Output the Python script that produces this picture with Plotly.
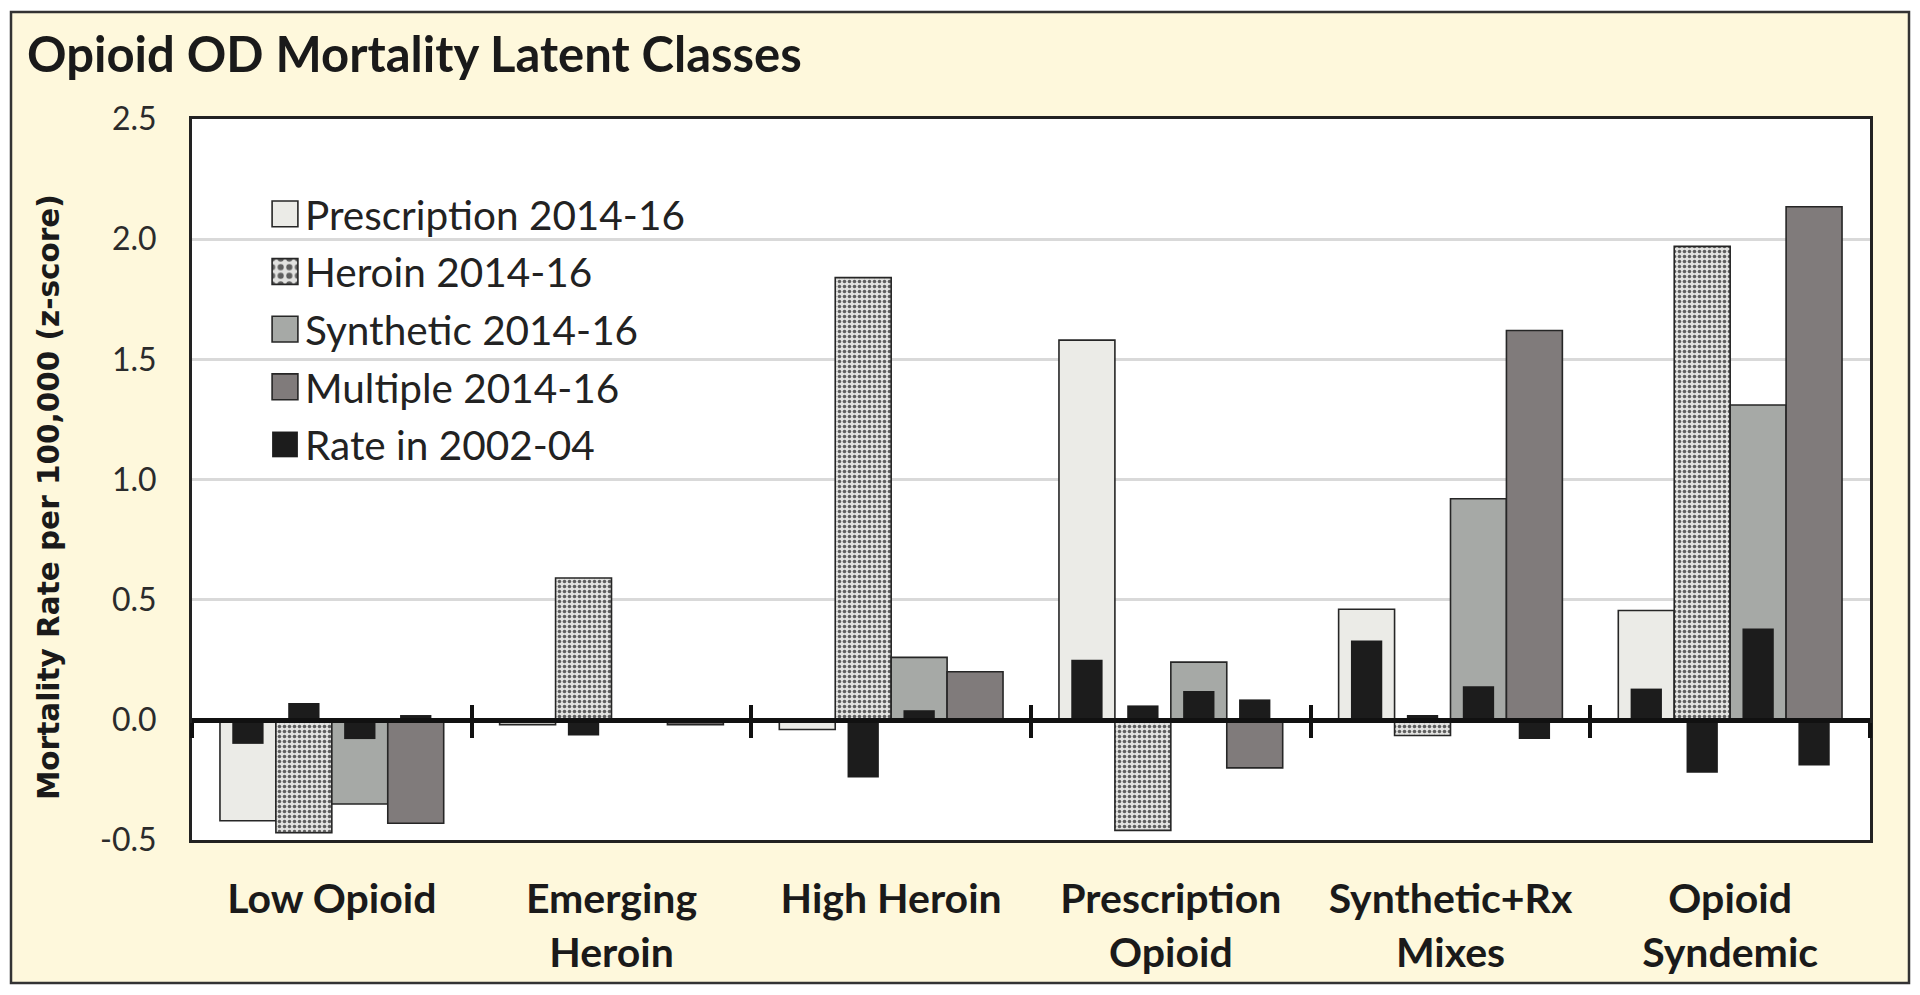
import plotly.graph_objects as go

# ---------------- data ----------------
categories = ["Low Opioid", "Emerging Heroin", "High Heroin",
              "Prescription Opioid", "Synthetic+Rx Mixes", "Opioid Syndemic"]
category_labels = ["Low Opioid", "Emerging<br>Heroin", "High Heroin",
                   "Prescription<br>Opioid", "Synthetic+Rx<br>Mixes", "Opioid<br>Syndemic"]

series_names = ["Prescription 2014-16", "Heroin 2014-16", "Synthetic 2014-16", "Multiple 2014-16"]
prescription_1416 = [-0.42, -0.02, -0.04, 1.58, 0.46, 0.455]
heroin_1416 = [-0.47, 0.59, 1.84, -0.46, -0.065, 1.97]
synthetic_1416 = [-0.35, 0.0, 0.26, 0.24, 0.92, 1.31]
multiple_1416 = [-0.43, -0.02, 0.20, -0.20, 1.62, 2.135]

rate_name = "Rate in 2002-04"
prescription_0204 = [-0.10, -0.01, 0.0, 0.25, 0.33, 0.13]
heroin_0204 = [0.07, -0.065, -0.24, 0.06, 0.02, -0.22]
synthetic_0204 = [-0.08, 0.0, 0.04, 0.12, 0.14, 0.38]
multiple_0204 = [0.02, -0.01, 0.0, 0.085, -0.08, -0.19]

y_tick_labels = ["-0.5", "0.0", "0.5", "1.0", "1.5", "2.0", "2.5"]

title_text = "Opioid OD Mortality Latent Classes"
y_title = "Mortality Rate per 100,000 (z-score)"

# ---------------- styling ----------------
W, H = 1920, 995
ML, MR, MT, MB = 192, 50, 119, 155
PW, PH = W - ML - MR, H - MT - MB

def px_x(px):
    return (px - ML) / PW

def px_y(py):
    return (H - MB - py) / PH

wide_fill = ["#ebebe7", "#e2e2e0", "#a6a9a6", "#807b7b"]
outline = "#262626"
black_fill = "#1c1c1c"

group_frac = 0.8
n_series = 4
bar_w = group_frac / n_series
black_w = bar_w * 0.56

yvals = [float(t) for t in y_tick_labels]
ymin, ymax = yvals[0], yvals[-1]

fig = go.Figure()

wide_series = [prescription_1416, heroin_1416, synthetic_1416, multiple_1416]
rate_series = [prescription_0204, heroin_0204, synthetic_0204, multiple_0204]

for i, (name, vals) in enumerate(zip(series_names, wide_series)):
    marker = dict(color=wide_fill[i], line=dict(color=outline, width=1.6))
    if i == 1:
        marker["pattern"] = dict(shape=".", bgcolor="#e2e2e0", fgcolor="#5e5e5e",
                                 size=5, solidity=0.4, fillmode="replace")
    fig.add_trace(go.Bar(
        x=categories, y=vals, name=name, marker=marker, legendgroup=name,
        width=bar_w, offset=-group_frac / 2 + i * bar_w,
    ))

for i, vals in enumerate(rate_series):
    center = -group_frac / 2 + (i + 0.5) * bar_w
    fig.add_trace(go.Bar(
        x=categories, y=vals, name=rate_name, legendgroup="rate",
        showlegend=(i == 0), marker=dict(color=black_fill, line=dict(width=0)),
        width=black_w, offset=center - black_w / 2,
    ))

# dummy traces to activate the zero-line tick axes
for ax in ["x2", "x3"]:
    fig.add_trace(go.Scatter(x=[None], y=[None], xaxis=ax, yaxis="y",
                             showlegend=False, hoverinfo="skip"))

n_cat = len(categories)
boundaries = [i - 0.5 for i in range(n_cat + 1)]
zero_pos = (0 - ymin) / (ymax - ymin)

lato = "Lato, 'Open Sans', sans-serif"

fig.update_layout(
    width=W, height=H,
    margin=dict(l=ML, r=MR, t=MT, b=MB, autoexpand=False),
    paper_bgcolor="white",
    plot_bgcolor="rgba(0,0,0,0)",
    barmode="overlay",
    title=dict(text=title_text, x=27 / W, xref="container", xanchor="left",
               y=1 - 55 / H, yref="container", yanchor="middle",
               font=dict(family=lato, size=49, color="#1a1a1a", weight="bold")),
    xaxis=dict(type="category", range=[-0.5, n_cat - 0.5],
               tickmode="array", tickvals=categories, ticktext=category_labels,
               tickfont=dict(family=lato, size=41, color="#1a1a1a", weight="bold"),
               ticks="", showline=True, mirror=True, linecolor="#222", linewidth=3,
               showgrid=False, ticklabelstandoff=21),
    xaxis2=dict(type="linear", overlaying="x", anchor="free", position=zero_pos,
                range=[-0.5, n_cat - 0.5], tickmode="array", tickvals=boundaries,
                ticks="outside", ticklen=15, tickwidth=4, tickcolor="#111",
                showticklabels=False, showline=True, linewidth=5, linecolor="#111",
                showgrid=False, zeroline=False),
    xaxis3=dict(type="linear", overlaying="x", anchor="free", position=zero_pos,
                range=[-0.5, n_cat - 0.5], tickmode="array", tickvals=boundaries,
                ticks="inside", ticklen=15, tickwidth=4, tickcolor="#111",
                showticklabels=False, showline=False,
                showgrid=False, zeroline=False),
    yaxis=dict(range=[ymin, ymax], tickmode="array", tickvals=yvals, ticktext=y_tick_labels,
               tickfont=dict(family=lato, size=32, color="#2b2b2b"),
               showgrid=True, gridcolor="#d9d9d9", gridwidth=3,
               showline=True, mirror=True, linecolor="#222", linewidth=3,
               zeroline=False, ticks="", ticklabelstandoff=26),
    legend=dict(x=px_x(265), y=px_y(181), xanchor="left", yanchor="top",
                bgcolor="rgba(0,0,0,0)", traceorder="grouped", tracegroupgap=2,
                font=dict(family=lato, size=40.5, color="#222"), itemwidth=30),
    showlegend=True,
    annotations=[dict(text=y_title, xref="paper", yref="paper",
                      x=px_x(49), y=px_y(497), xanchor="center", yanchor="middle",
                      textangle=-90, showarrow=False,
                      font=dict(family="DejaVu Sans, Verdana, sans-serif", size=29.5,
                                color="#1a1a1a", weight="bold"))],
    shapes=[
        dict(type="rect", xref="paper", yref="paper", layer="below",
             x0=px_x(11), x1=px_x(1909), y0=px_y(983), y1=px_y(12),
             fillcolor="#fef8dc", line=dict(color="#333", width=2.5)),
        dict(type="rect", xref="paper", yref="paper", layer="below",
             x0=0, x1=1, y0=0, y1=1, fillcolor="white", line=dict(width=0)),
    ],
)

post = """
document.body.style.margin='0';
var gd = document.getElementById('{plot_id}');
function fixLegend(){
  gd.querySelectorAll('.legend .legendpoints path').forEach(function(p){
    var t = p.getAttribute('transform') || '';
    if (t.indexOf('scale') < 0) {
      p.setAttribute('transform', t + ' scale(2.15)');
      p.style.vectorEffect = 'non-scaling-stroke';
    }
  });
}
fixLegend();
gd.on('plotly_afterplot', fixLegend);
"""

fig.write_html("out.html", post_script=post, config={"displayModeBar": False})
